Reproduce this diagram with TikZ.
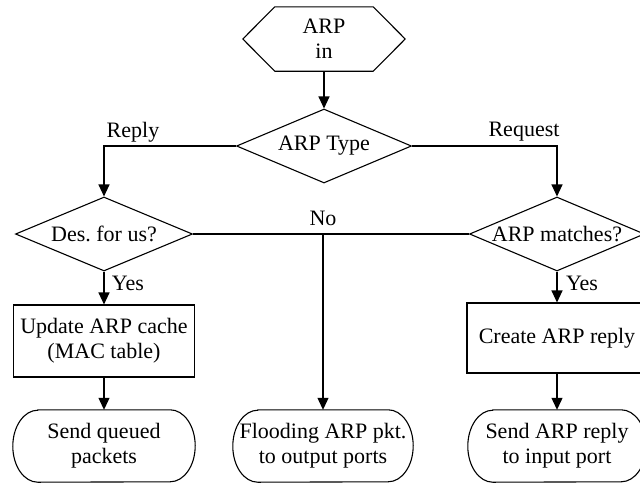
\documentclass[tikz,border=0pt]{standalone}
\usepackage{fontspec}
\setmainfont{Liberation Serif}
\frenchspacing
\usetikzlibrary{shapes.geometric,arrows.meta}

\tikzset{
  every node/.style={font=\fontsize{22}{25}\selectfont, align=center},
  line/.style={line width=1.1pt},
  arr/.style={line, -{Triangle[length=12pt,width=11pt]}},
  decision/.style={diamond, draw, line width=1.1pt, inner sep=0pt, aspect=2.37,
                   minimum width=#1, minimum height=74pt},
  process/.style={rectangle, draw, line width=1.1pt, inner sep=0pt},
  terminal/.style={rectangle, inner sep=0pt, minimum height=72pt},
  hexbox/.style={rectangle, inner sep=0pt, minimum width=162pt, minimum height=64pt},
}

\begin{document}
\begin{tikzpicture}[x=1pt, y=-1pt]
  \useasboundingbox (0,0) rectangle (640,483);

  % start: hexagonal input box
  \node[hexbox] (in) at (324,39) {ARP\\in};
  \draw[line] ([xshift=32pt]in.north west) -- ([xshift=-32pt]in.north east)
    -- (in.east) -- ([xshift=-32pt]in.south east)
    -- ([xshift=32pt]in.south west) -- (in.west) -- cycle;

  % decisions
  \node[decision=175pt] (type)  at (324,146) {ARP Type};
  \node[decision=177pt] (des)   at (104,234) {Des.\ for us?};
  \node[decision=175pt] (match) at (557,234) {ARP matches?};

  % processes
  \node[process, minimum width=181pt, minimum height=72pt] (upd) at (104,341)
    {Update ARP cache\\(MAC table)};
  \node[process, minimum width=180pt, minimum height=70pt] (cre) at (557,338)
    {Create ARP reply};

  % terminals
  \node[terminal, minimum width=182pt] (sq) at (104,446) {Send queued\\packets};
  \node[terminal, minimum width=180pt] (fl) at (323,446) {Flooding ARP pkt.\\to output ports};
  \node[terminal, minimum width=178pt] (sr) at (557,446) {Send ARP reply\\to input port};
  \foreach \n in {sq,fl,sr}{
    \draw[line] ([xshift=25pt]\n.north west) -- ([xshift=-25pt]\n.north east)
      arc[start angle=90, end angle=-90, x radius=25pt, y radius=36pt]
      -- ([xshift=25pt]\n.south west)
      arc[start angle=270, end angle=90, x radius=25pt, y radius=36pt] -- cycle;
  }

  % connectors
  \draw[arr] (in.south) -- (type.north);
  \draw[arr] (type.west) -| (des.north);
  \draw[arr] (type.east) -| (match.north);
  \draw[line] (des.east) -- (match.west);
  \coordinate (split) at (fl.north |- des.east);
  \draw[arr] (split) -- (fl.north);
  \draw[arr] (des.south) -- (upd.north);
  \draw[arr] (upd.south) -- (sq.north);
  \draw[arr] (match.south) -- (cre.north);
  \draw[arr] (cre.south) -- (sr.north);

  % branch labels
  \node (lreply) at (133,132) {Reply};
  \node (lreq)   at (524,132) {Request};
  \node (lno)    at (323,218) {No};
  \node (lyes1)  at (128,283) {Yes};
  \node (lyes2)  at (582,283) {Yes};
\end{tikzpicture}
\end{document}
